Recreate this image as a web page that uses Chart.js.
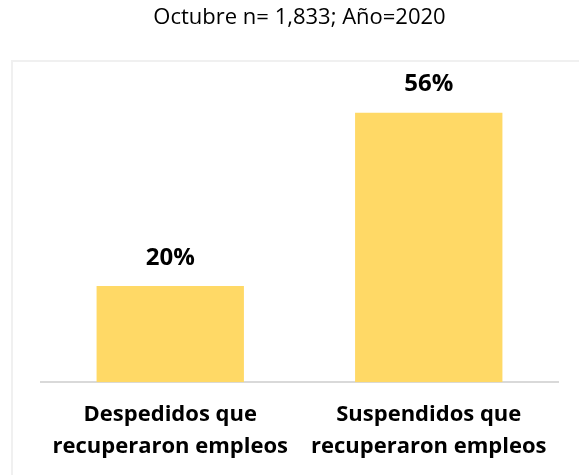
<!DOCTYPE html>
<html>
<head>
<meta charset="utf-8">
<script src="https://cdn.jsdelivr.net/npm/chart.js@4.4.0/dist/chart.umd.min.js"></script>
<style>
  html, body { margin: 0; padding: 0; background: #fff; }
  #wrap { position: relative; width: 579px; height: 475px; }
  #box { position: absolute; left: 11px; top: 60px; width: 600px; height: 500px; border: 2px solid #F0F0F0; box-sizing: border-box; }
  canvas { position: absolute; left: 0; top: 0; }
</style>
</head>
<body>
<div id="wrap">
  <div id="box"></div>
  <canvas id="chart1" width="579" height="475"></canvas>
</div>
<script>
const categories = [['Despedidos que', 'recuperaron empleos'], ['Suspendidos que', 'recuperaron empleos']];
const values = [20, 56];
const valueLabels = ['20%', '56%'];

const barLabels = {
  id: 'barLabels',
  afterDatasetsDraw(chart) {
    const ctx = chart.ctx;
    const meta = chart.getDatasetMeta(0);
    ctx.save();
    ctx.font = 'bold 24px "Open Sans"';
    ctx.fillStyle = '#000';
    ctx.textAlign = 'center';
    ctx.textBaseline = 'middle';
    meta.data.forEach((bar, i) => {
      ctx.fillText(valueLabels[i], bar.x, bar.y - 28);
    });
    ctx.restore();
  }
};

const ctx = document.getElementById("chart1");
new Chart(ctx, {
  type: "bar",
  data: {
    labels: categories,
    datasets: [{
      data: values,
      backgroundColor: "#FFD966",
      barPercentage: 0.57,
      categoryPercentage: 1,
    }],
  },
  options: {
    responsive: false,
    animation: false,
    layout: { padding: { left: 41, right: 21, top: 0, bottom: 3 } },
    plugins: {
      legend: { display: false },
      tooltip: { enabled: false },
      title: {
        display: true,
        text: 'Octubre n= 1,833; Año=2020',
        color: '#000',
        font: { family: '"Open Sans"', size: 22, weight: 'normal', lineHeight: 1.2 },
        padding: { top: 5, bottom: 62 },
      },
    },
    scales: {
      x: {
        grid: { display: false },
        border: { color: '#D9D9D9', width: 2 },
        ticks: {
          color: '#000',
          font: { family: '"Open Sans"', size: 22, weight: 'bold', lineHeight: 1.45 },
          padding: 9,
        },
      },
      y: {
        display: false,
        min: 0,
        max: 60,
      },
    },
  },
  plugins: [barLabels],
});
</script>
</body>
</html>
